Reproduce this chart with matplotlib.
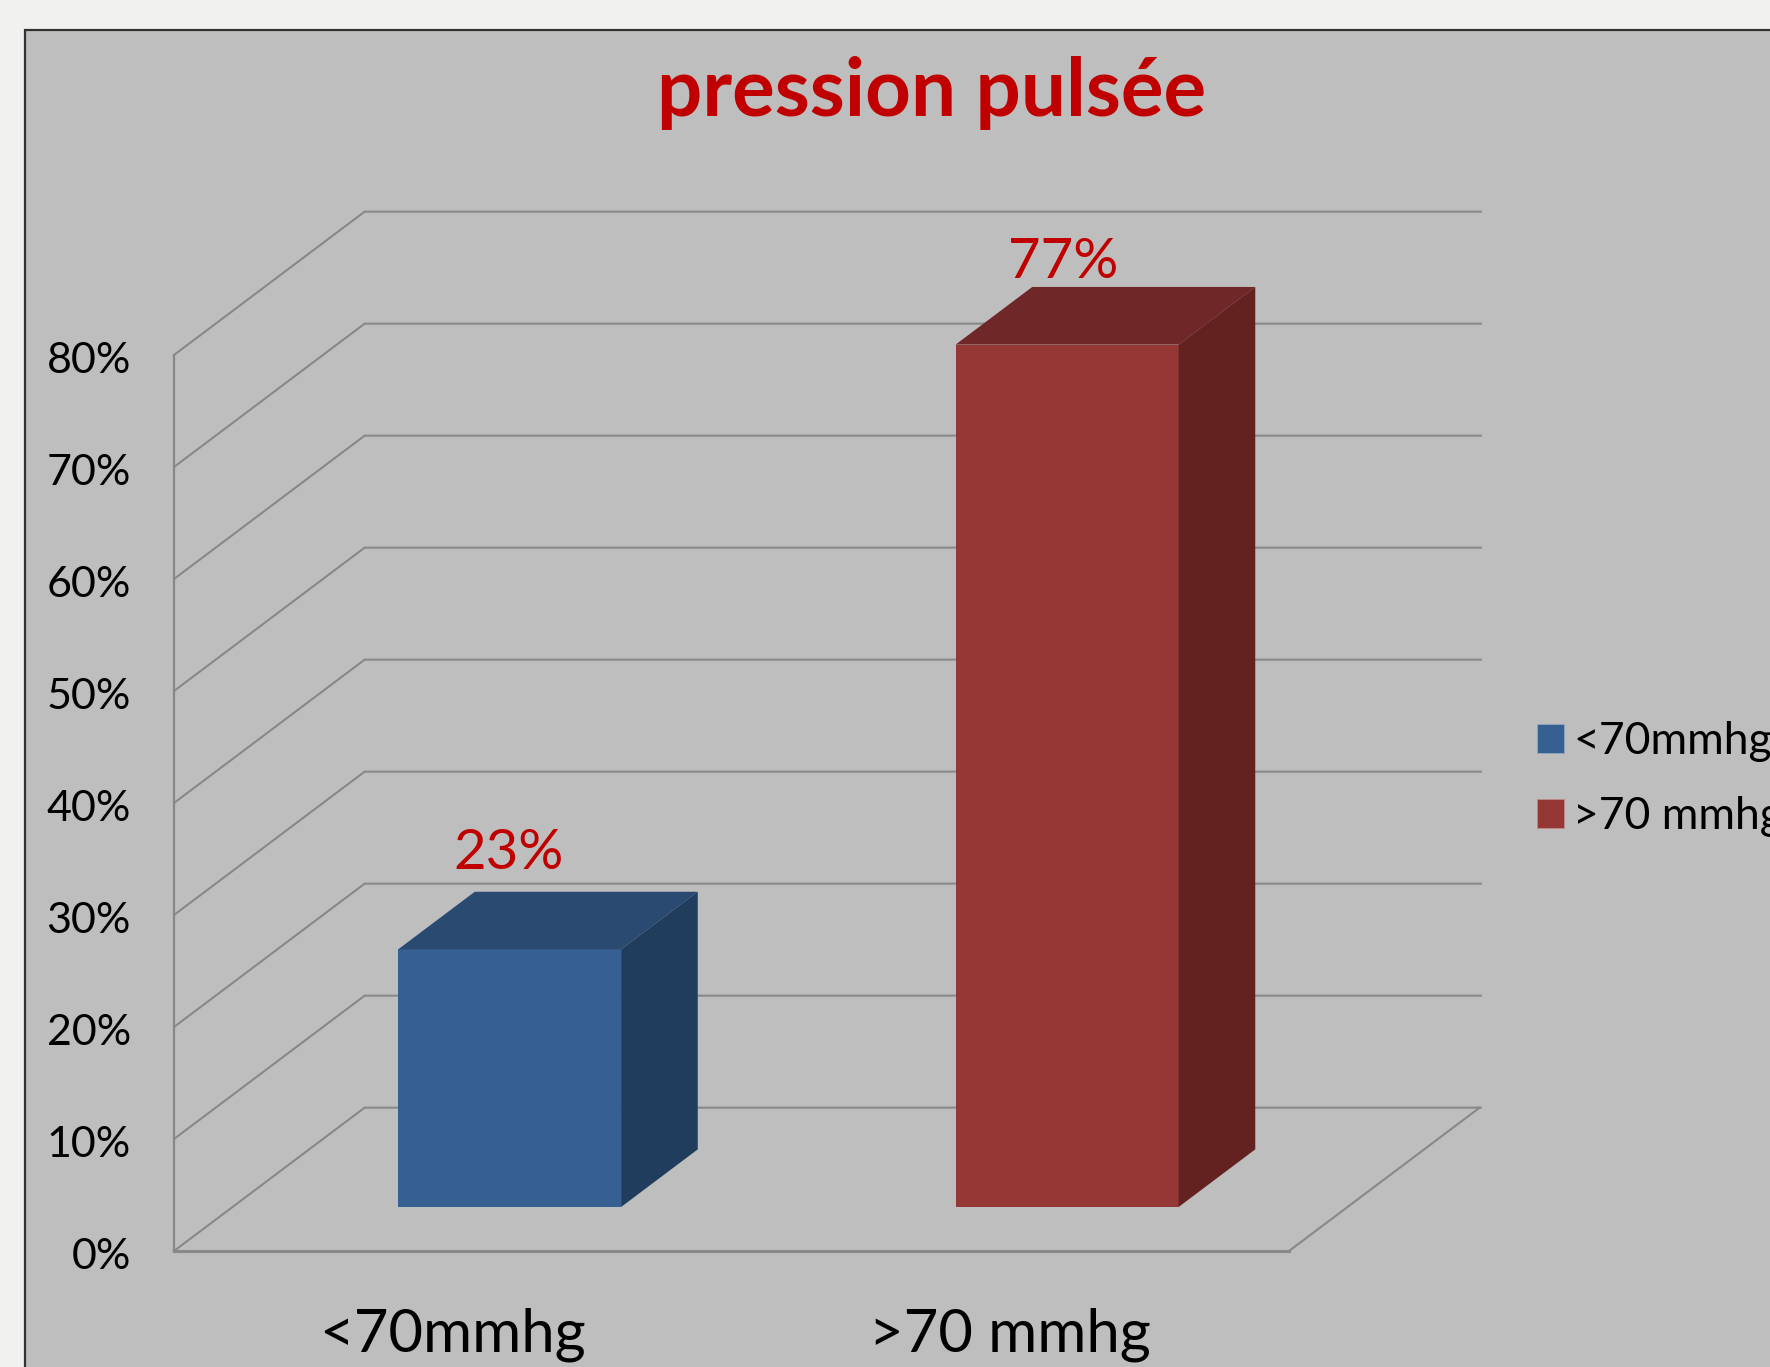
import matplotlib
matplotlib.use('Agg')
import matplotlib.pyplot as plt
from matplotlib.patches import Polygon, Patch, Rectangle
from matplotlib.transforms import ScaledTranslation

plt.rcParams['font.family'] = ['Lato', 'DejaVu Sans']

categories = ['<70mmhg', '>70 mmhg']
values = [23, 77]
value_labels = ['23%', '77%']
y_ticks = [0, 10, 20, 30, 40, 50, 60, 70, 80]
y_tick_labels = ['0%', '10%', '20%', '30%', '40%', '50%', '60%', '70%', '80%']

W, H = 1770, 1367
bar_width = 0.4
bar_shift = -0.003
depth_front, depth_back = 0.307, 0.709
shear_x, shear_y = 0.342, 12.8   # how far the back wall sits from the front plane
wall_end = 2.344

front_colors = ['#366092', '#953735']
top_colors = ['#2A4A72', '#6F2827']
side_colors = ['#203D5E', '#632120']
grid_color = '#888888'
label_red = '#C00000'
label_offsets = [58, 48]


def proj(x, y, d):
    return x + d * shear_x, y + d * shear_y


fig = plt.figure(figsize=(W / 100, H / 100), dpi=100, facecolor='#F1F1EF')

# grey panel, runs off the right and bottom edges
fig.patches.append(Rectangle((25 / W, -0.01), 1.1, 1 - 30 / H + 0.01, transform=fig.transFigure,
                             facecolor='#BEBEBE', edgecolor='#333333', linewidth=1.6, zorder=-1))

ax = fig.add_axes([174 / W, 1 - 1251 / H, 1115 / W, 896 / H])
ax.set_xlim(0, 2)
ax.set_ylim(0, 80)
ax.patch.set_visible(False)
for s in ax.spines.values():
    s.set_visible(False)

# walls and floor
for v in y_ticks:
    bx, by = proj(0, v, 1)
    ax.plot([0, bx, wall_end], [v, by, by], color=grid_color, lw=1.5, clip_on=False, zorder=1,
            solid_joinstyle='miter')
ax.plot([0, 0], [0, 80], color=grid_color, lw=1.6, clip_on=False, zorder=1)
ax.plot([0, 2], [0, 0], color=grid_color, lw=2.2, clip_on=False, zorder=1)
rx, ry = proj(2, 0, 1)
ax.plot([2, rx], [0, ry], color=grid_color, lw=1.5, clip_on=False, zorder=1)

# 3D columns
for i, val in enumerate(values):
    x0 = i + 0.5 + bar_shift - bar_width / 2
    x1 = i + 0.5 + bar_shift + bar_width / 2
    front = [proj(x0, 0, depth_front), proj(x1, 0, depth_front),
             proj(x1, val, depth_front), proj(x0, val, depth_front)]
    top = [proj(x0, val, depth_front), proj(x1, val, depth_front),
           proj(x1, val, depth_back), proj(x0, val, depth_back)]
    side = [proj(x1, 0, depth_front), proj(x1, 0, depth_back),
            proj(x1, val, depth_back), proj(x1, val, depth_front)]
    ax.add_patch(Polygon(front, facecolor=front_colors[i], edgecolor='none', clip_on=False, zorder=3))
    ax.add_patch(Polygon(top, facecolor=top_colors[i], edgecolor='none', clip_on=False, zorder=3))
    ax.add_patch(Polygon(side, facecolor=side_colors[i], edgecolor='none', clip_on=False, zorder=3))
    ax.annotate(value_labels[i], proj(i + 0.5, val, depth_front), xytext=(-2 if i == 0 else -4, label_offsets[i]),
                textcoords='offset points', ha='center', va='baseline', fontsize=40.5,
                color=label_red, zorder=4, annotation_clip=False)

ax.set_yticks(y_ticks)
ax.set_yticklabels(y_tick_labels, fontsize=31, color='black')
ax.set_xticks([0.5, 1.5])
ax.set_xticklabels(categories, fontsize=43, color='black')
ax.tick_params(axis='y', length=0, pad=31)
ax.tick_params(axis='x', length=0, pad=41)

# value axis labels sit slightly below their gridline
nudge = ScaledTranslation(0, -2 / 72, fig.dpi_scale_trans)
for lab in ax.get_yticklabels():
    lab.set_transform(lab.get_transform() + nudge)

handles = [Patch(facecolor=front_colors[0], edgecolor='#8FA6C4', linewidth=0.6),
           Patch(facecolor=front_colors[1], edgecolor='#C08A88', linewidth=0.6)]
fig.legend(handles, categories, loc='upper left', bbox_to_anchor=(1537 / W, 1 - 721 / H), frameon=False,
           fontsize=32, handlelength=0.61, handleheight=0.61, handletextpad=0.2, labelspacing=0.77,
           borderpad=0, borderaxespad=0)

fig.text(932 / W, 1 - 116 / H, 'pression pulsée', ha='center', va='baseline', fontsize=57.5,
         fontweight='bold', color=label_red)

fig.savefig('out.png', dpi=100, facecolor=fig.get_facecolor())
